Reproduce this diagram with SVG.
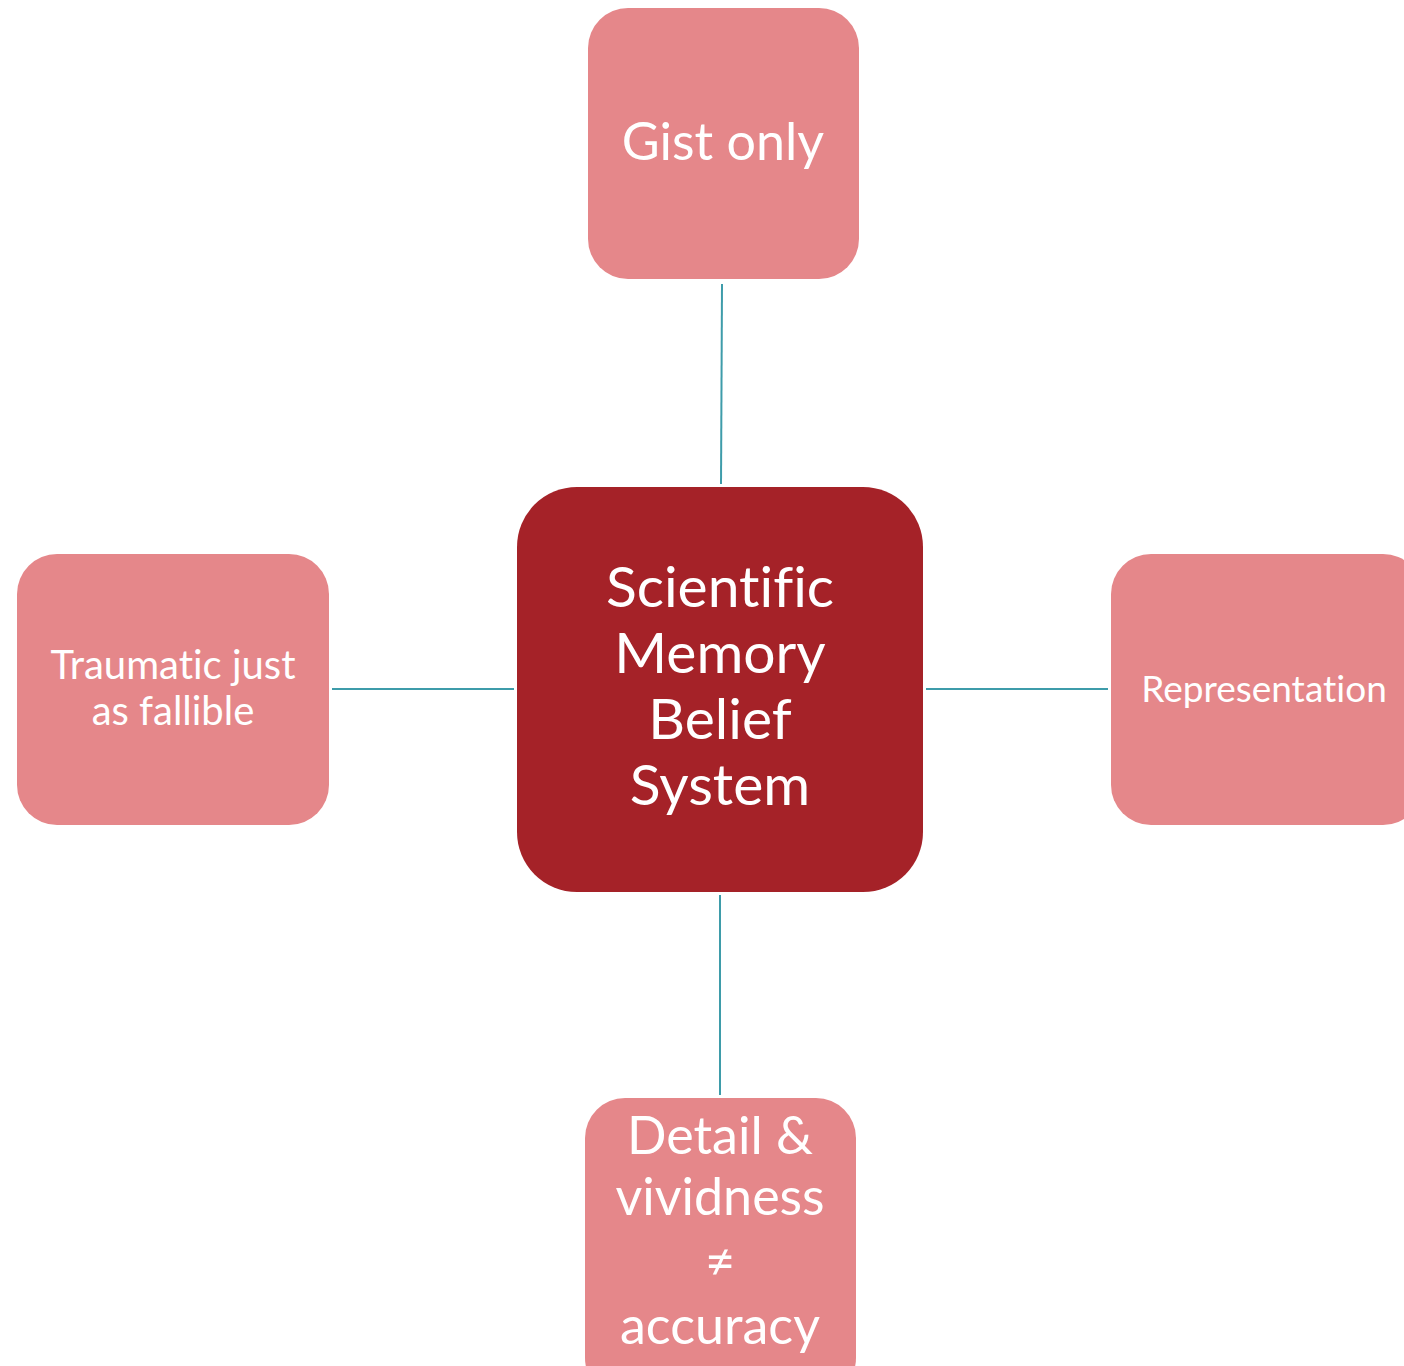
<svg xmlns="http://www.w3.org/2000/svg" width="1404" height="1366" viewBox="0 0 1404 1366">
<style>
.leaf{fill:#E5878A}
.core{fill:#A52228}
.t{fill:#FFFFFF;font-family:Lato,"Open Sans","Liberation Sans",sans-serif;text-anchor:middle;font-variant-ligatures:none}
.c{stroke:#3E9CAA;stroke-width:2;fill:none}
</style>
<rect width="1404" height="1366" fill="#FFFFFF"/>
<g id="connectors">
<line class="c" x1="722" y1="284" x2="721" y2="484"/>
<line class="c" x1="720" y1="895" x2="720" y2="1095"/>
<line class="c" x1="332" y1="689" x2="514" y2="689"/>
<line class="c" x1="926" y1="689" x2="1108" y2="689"/>
</g>
<g id="node-center">
<rect class="core" x="517" y="487" width="406" height="405" rx="60"/>
<text class="t" font-size="57"><tspan x="720" y="607">Scientific</tspan><tspan x="720" y="673">Memory</tspan><tspan x="720" y="739">Belief</tspan><tspan x="720" y="805">System</tspan></text>
</g>
<g id="node-top">
<rect class="leaf" x="588" y="8" width="271" height="271" rx="40"/>
<text class="t" font-size="52" x="723" y="160">Gist only</text>
</g>
<g id="node-left">
<rect class="leaf" x="17" y="554" width="312" height="271" rx="40"/>
<text class="t" font-size="40"><tspan x="173" y="679">Traumatic just</tspan><tspan x="173" y="725">as fallible</tspan></text>
</g>
<g id="node-right">
<rect class="leaf" x="1111" y="554" width="312" height="271" rx="40"/>
<text class="t" font-size="37" x="1264" y="702">Representation</text>
</g>
<g id="node-bottom">
<rect class="leaf" x="585" y="1098" width="271" height="300" rx="40"/>
<text class="t" font-size="52"><tspan x="720" y="1154">Detail &amp;</tspan><tspan x="720" y="1215">vividness</tspan><tspan x="720" y="1280">≠</tspan><tspan x="720" y="1344">accuracy</tspan></text>
</g>
</svg>
